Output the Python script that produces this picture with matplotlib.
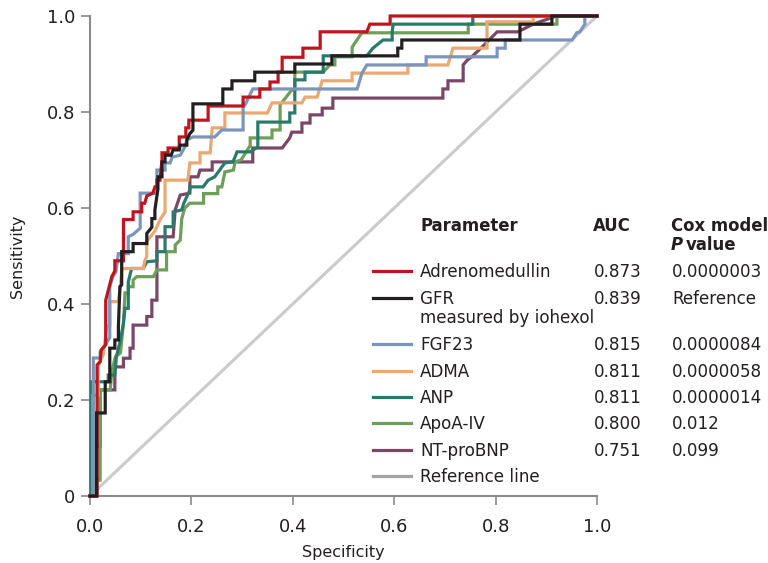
import matplotlib
matplotlib.use("Agg")
import matplotlib.pyplot as plt
from matplotlib.lines import Line2D

plt.rcParams['font.family'] = ['DejaVu Sans']

# ---------------- data (1 - specificity, sensitivity) ----------------
adm_x = [0, 0.014, 0.014, 0.020, 0.022, 0.031, 0.031, 0.043, 0.049, 0.049, 0.066, 0.066, 0.085, 0.085, 0.102, 0.102,
         0.108, 0.112, 0.124, 0.128, 0.132, 0.132, 0.138, 0.142, 0.142, 0.154, 0.154, 0.176, 0.176, 0.189, 0.189,
         0.195, 0.195, 0.233, 0.233, 0.302, 0.302, 0.335, 0.335, 0.355, 0.355, 0.371, 0.371, 0.379, 0.379, 0.420,
         0.420, 0.454, 0.454, 0.546, 0.552, 0.592, 0.592, 1.0]
adm_y = [0, 0, 0.273, 0.280, 0.304, 0.315, 0.408, 0.457, 0.469, 0.490, 0.490, 0.576, 0.576, 0.592, 0.592, 0.610,
         0.610, 0.625, 0.631, 0.644, 0.644, 0.658, 0.658, 0.700, 0.715, 0.715, 0.725, 0.725, 0.748, 0.748, 0.767,
         0.767, 0.783, 0.783, 0.8125, 0.8125, 0.831, 0.831, 0.848, 0.848, 0.8625, 0.8625, 0.883, 0.883, 0.914, 0.914,
         0.933, 0.933, 0.967, 0.967, 0.983, 0.983, 1.0, 1.0]

gfr_x = [0, 0.013, 0.013, 0.030, 0.030, 0.039, 0.039, 0.049, 0.049, 0.056, 0.056, 0.059, 0.0625, 0.0625, 0.085,
         0.085, 0.112, 0.112, 0.122, 0.122, 0.128, 0.128, 0.134, 0.134, 0.142, 0.142, 0.148, 0.148, 0.160, 0.164,
         0.176, 0.178, 0.191, 0.191, 0.197, 0.203, 0.203, 0.262, 0.262, 0.280, 0.280, 0.325, 0.325, 0.404, 0.404,
         0.477, 0.477, 0.607, 0.607, 0.615, 0.615, 0.848, 0.848, 0.911, 0.911, 1.0]
gfr_y = [0, 0, 0.173, 0.173, 0.238, 0.238, 0.308, 0.308, 0.325, 0.325, 0.353, 0.436, 0.440, 0.509, 0.509, 0.526,
         0.526, 0.547, 0.560, 0.578, 0.578, 0.596, 0.640, 0.665, 0.665, 0.696, 0.696, 0.710, 0.710, 0.721, 0.721,
         0.731, 0.731, 0.742, 0.755, 0.762, 0.817, 0.817, 0.848, 0.848, 0.865, 0.865, 0.883, 0.883, 0.900, 0.900,
         0.917, 0.917, 0.933, 0.933, 0.950, 0.950, 0.983, 0.983, 1.0, 1.0]

fgf_x = [0, 0.0066, 0.0066, 0.020, 0.020, 0.030, 0.039, 0.039, 0.045, 0.051, 0.056, 0.0755, 0.0755, 0.085, 0.099,
         0.099, 0.132, 0.132, 0.148, 0.148, 0.158, 0.162, 0.178, 0.187, 0.191, 0.203, 0.246, 0.260, 0.302, 0.302,
         0.306, 0.321, 0.527, 0.536, 0.546, 0.663, 0.663, 0.803, 0.803, 0.819, 0.819, 0.951, 0.960, 0.966, 0.976,
         0.976, 1.0]
fgf_y = [0, 0, 0.2875, 0.2875, 0.300, 0.315, 0.330, 0.436, 0.457, 0.467, 0.505, 0.505, 0.540, 0.545, 0.558, 0.631,
         0.631, 0.679, 0.679, 0.694, 0.694, 0.706, 0.710, 0.727, 0.742, 0.748, 0.748, 0.7625, 0.7625, 0.815, 0.815,
         0.848, 0.848, 0.880, 0.898, 0.898, 0.915, 0.915, 0.933, 0.933, 0.950, 0.950, 0.965, 0.967, 0.983, 1.0, 1.0]

adma_x = [0, 0.006, 0.006, 0.016, 0.016, 0.026, 0.033, 0.039, 0.039, 0.056, 0.060, 0.063, 0.105, 0.108, 0.112,
          0.112, 0.122, 0.128, 0.138, 0.148, 0.148, 0.193, 0.197, 0.217, 0.217, 0.237, 0.241, 0.266, 0.266, 0.350,
          0.359, 0.418, 0.424, 0.448, 0.458, 0.517, 0.517, 0.627, 0.627, 0.706, 0.716, 0.783, 0.783, 0.874, 0.874,
          1.0]
adma_y = [0, 0, 0.210, 0.210, 0.270, 0.294, 0.353, 0.356, 0.405, 0.405, 0.440, 0.474, 0.474, 0.490, 0.499, 0.530,
          0.544, 0.552, 0.575, 0.592, 0.658, 0.658, 0.694, 0.694, 0.715, 0.715, 0.767, 0.767, 0.798, 0.798, 0.819,
          0.819, 0.831, 0.831, 0.865, 0.865, 0.881, 0.881, 0.898, 0.898, 0.933, 0.933, 0.988, 0.988, 1.0, 1.0]

anp_x = [0, 0.002, 0.002, 0.036, 0.036, 0.049, 0.052, 0.060, 0.066, 0.069, 0.0755, 0.0755, 0.082, 0.105, 0.112,
         0.132, 0.132, 0.148, 0.148, 0.164, 0.164, 0.181, 0.185, 0.197, 0.197, 0.223, 0.233, 0.246, 0.266, 0.282,
         0.290, 0.316, 0.331, 0.331, 0.394, 0.394, 0.404, 0.404, 0.424, 0.424, 0.460, 0.460, 0.546, 0.558, 0.578,
         0.596, 0.596, 0.598, 0.755, 0.755, 1.0]
anp_y = [0, 0, 0.238, 0.238, 0.252, 0.252, 0.290, 0.325, 0.360, 0.391, 0.391, 0.446, 0.474, 0.474, 0.488, 0.490,
         0.509, 0.509, 0.561, 0.561, 0.592, 0.596, 0.610, 0.6375, 0.644, 0.644, 0.658, 0.665, 0.694, 0.696, 0.717,
         0.717, 0.727, 0.779, 0.779, 0.798, 0.798, 0.867, 0.867, 0.883, 0.883, 0.917, 0.917, 0.933, 0.950, 0.950,
         0.967, 0.983, 0.983, 1.0, 1.0]

apo_x = [0, 0.0066, 0.0066, 0.020, 0.020, 0.040, 0.043, 0.050, 0.060, 0.066, 0.069, 0.0755, 0.0755, 0.085, 0.085,
         0.092, 0.125, 0.132, 0.151, 0.151, 0.168, 0.168, 0.178, 0.181, 0.187, 0.197, 0.224, 0.224, 0.252, 0.252,
         0.260, 0.266, 0.283, 0.286, 0.298, 0.316, 0.316, 0.359, 0.359, 0.375, 0.375, 0.398, 0.404, 0.404, 0.460,
         0.473, 0.483, 0.483, 0.517, 0.517, 0.536, 0.746, 0.746, 0.921, 0.921, 1.0]
apo_y = [0, 0, 0.033, 0.033, 0.221, 0.221, 0.259, 0.290, 0.298, 0.360, 0.423, 0.423, 0.436, 0.436, 0.450, 0.457,
         0.457, 0.471, 0.471, 0.509, 0.509, 0.523, 0.533, 0.578, 0.600, 0.610, 0.610, 0.630, 0.630, 0.644, 0.644,
         0.675, 0.679, 0.696, 0.700, 0.730, 0.746, 0.746, 0.7625, 0.7625, 0.815, 0.846, 0.846, 0.883, 0.883, 0.898,
         0.898, 0.915, 0.915, 0.935, 0.965, 0.965, 0.983, 0.983, 1.0, 1.0]

bnp_x = [0, 0.010, 0.010, 0.020, 0.020, 0.049, 0.049, 0.066, 0.066, 0.079, 0.079, 0.085, 0.085, 0.112, 0.112,
         0.122, 0.122, 0.132, 0.132, 0.164, 0.168, 0.178, 0.197, 0.197, 0.213, 0.217, 0.241, 0.241, 0.321, 0.321,
         0.379, 0.394, 0.398, 0.418, 0.418, 0.434, 0.434, 0.458, 0.458, 0.479, 0.479, 0.696, 0.696, 0.706, 0.706,
         0.736, 0.736, 0.744, 0.753, 0.773, 0.803, 0.844, 0.874, 0.920, 1.0]
bnp_y = [0, 0, 0.103, 0.103, 0.221, 0.221, 0.269, 0.269, 0.287, 0.287, 0.308, 0.308, 0.356, 0.356, 0.374, 0.374,
         0.408, 0.408, 0.540, 0.540, 0.596, 0.627, 0.631, 0.665, 0.665, 0.679, 0.679, 0.696, 0.696, 0.725, 0.725,
         0.746, 0.758, 0.758, 0.777, 0.777, 0.794, 0.794, 0.808, 0.808, 0.829, 0.829, 0.848, 0.848, 0.865, 0.865,
         0.898, 0.908, 0.915, 0.935, 0.967, 0.967, 0.983, 1.0, 1.0]

ref_x = [0, 1]
ref_y = [0, 1]

names = ["Adrenomedullin", "GFR", "FGF23", "ADMA", "ANP", "ApoA-IV", "NT-proBNP", "Reference line"]
auc = ["0.873", "0.839", "0.815", "0.811", "0.811", "0.800", "0.751", ""]
cox_p = ["0.0000003", "Reference", "0.0000084", "0.0000058", "0.0000014", "0.012", "0.099", ""]
ticks = [0, 0.2, 0.4, 0.6, 0.8, 1.0]
ytick_labels = ["0", "0.2", "0.4", "0.6", "0.8", "1.0"]
xtick_labels = ["0.0", "0.2", "0.4", "0.6", "0.8", "1.0"]

colors = ["#c0141f", "#231f20", "#7b95bb", "#eba873", "#2a7a6c", "#6d9f58", "#7b4766", "#a3a3a3"]
series = [(adm_x, adm_y), (gfr_x, gfr_y), (fgf_x, fgf_y), (adma_x, adma_y),
          (anp_x, anp_y), (apo_x, apo_y), (bnp_x, bnp_y)]

# ---------------- figure ----------------
W, H = 768, 563
fig = plt.figure(figsize=(W / 100, H / 100), dpi=100)
ax = fig.add_axes([90 / W, (H - 496) / H, 507 / W, 480 / H])


def fx(px):
    return px / W


def fy(py):
    return 1 - py / H


txt = "#231f20"
spine_c = "#8a8a8a"

ax.plot(ref_x, ref_y, color="#cbcbcb", lw=2.2, zorder=1, clip_on=False)
order = [6, 5, 4, 3, 2, 0, 1]
for k, i in enumerate(order):
    xs, ys = series[i]
    ax.plot(xs, ys, color=colors[i], lw=2.3, zorder=2 + k, clip_on=False, solid_joinstyle="miter")

ax.set_xlim(0, 1)
ax.set_ylim(0, 1)
for s in ["top", "right"]:
    ax.spines[s].set_visible(False)
for s in ["left", "bottom"]:
    ax.spines[s].set_color(spine_c)
    ax.spines[s].set_linewidth(1.5)
ax.set_xticks(ticks)
ax.set_xticklabels(xtick_labels)
ax.set_yticks(ticks)
ax.set_yticklabels(ytick_labels)
ax.tick_params(axis="both", direction="out", length=6.5, width=1.2, color=spine_c,
               labelsize=13, labelcolor=txt)
ax.tick_params(axis="x", pad=9)
ax.tick_params(axis="y", pad=4)
ax.set_xlabel("Specificity", fontsize=11.5, color=txt, labelpad=7)
ax.set_ylabel("Sensitivity", fontsize=11.5, color=txt, labelpad=16)

# ---------------- legend table ----------------
fs = 12.1
hfs = 11.9
fig.text(fx(420), fy(226), "Parameter", fontsize=hfs, fontweight="bold", color=txt, va="center")
fig.text(fx(593), fy(226), "AUC", fontsize=hfs, fontweight="bold", color=txt, va="center")
fig.text(fx(671), fy(226), "Cox model", fontsize=hfs, fontweight="bold", color=txt, va="center")
fig.text(fx(671), fy(245), "P", fontsize=hfs, fontweight="bold", fontstyle="italic", color=txt, va="center")
fig.text(fx(686), fy(245), "value", fontsize=hfs, fontweight="bold", color=txt, va="center")

row_y = [272, 299, 345, 372, 398, 424, 451, 477]
for i, name in enumerate(names):
    y = row_y[i]
    fig.add_artist(Line2D([fx(373), fx(411)], [fy(y - 1), fy(y - 1)], color=colors[i], lw=2.3,
                          transform=fig.transFigure))
    fig.text(fx(420), fy(y), name, fontsize=fs, color=txt, va="center")
    if auc[i]:
        fig.text(fx(594), fy(y), auc[i], fontsize=fs, color=txt, va="center")
        fig.text(fx(672), fy(y), cox_p[i], fontsize=fs, color=txt, va="center")
fig.text(fx(420), fy(318), "measured by iohexol", fontsize=fs, color=txt, va="center")

fig.savefig("out.png", dpi=100)
